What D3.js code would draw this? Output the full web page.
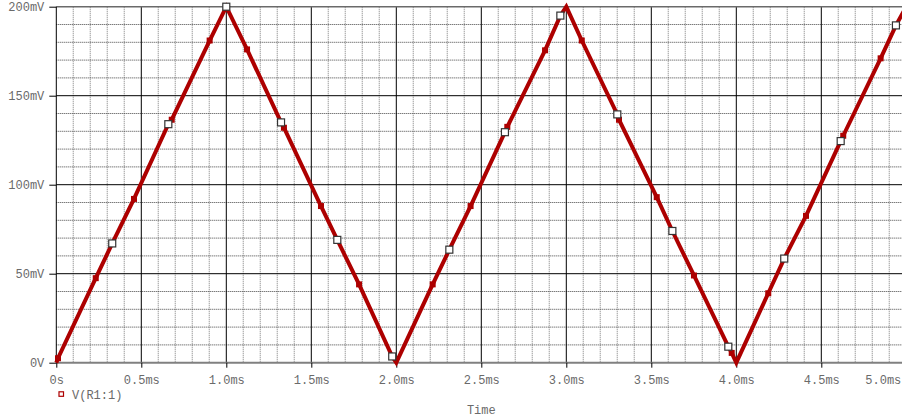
<!DOCTYPE html>
<html>
<head>
<meta charset="utf-8">
<script src="https://cdnjs.cloudflare.com/ajax/libs/d3/7.8.5/d3.min.js"></script>
<style>
  html, body { margin: 0; padding: 0; background: #fff; }
  svg { display: block; }
  .lbl { font-family: "Liberation Mono", "Courier New", monospace; font-size: 12px; fill: #6a6a6a; }
</style>
</head>
<body>
<svg id="chart" width="902" height="419"></svg>
<script>
// Transient trace V(R1:1): time in ms, voltage in mV
const timeMs = [0.000, 0.010, 0.232, 0.329, 0.457, 0.659, 0.679, 0.902, 1.000, 1.122,
                1.322, 1.339, 1.557, 1.653, 1.781, 1.976, 2.000, 2.214, 2.312, 2.437,
                2.639, 2.653, 2.875, 2.965, 3.000, 3.091, 3.300, 3.310, 3.532, 3.624,
                3.751, 3.953, 3.973, 4.000, 4.188, 4.282, 4.410, 4.614, 4.629, 4.849,
                4.939, 5.000];
const voltMv = [0, 2.5, 47.5, 67, 92, 134, 136.5, 181, 200, 176,
                135, 132, 88, 69, 44, 3.5, 0, 44, 63.5, 88,
                129.5, 132.5, 175.5, 195, 200, 181, 139.5, 136.5, 93, 74,
                49, 9, 5.5, 0, 39, 58.5, 82.5, 124.5, 127.5, 171,
                189.5, 200];
// "f" = data-point mark, "o" = trace symbol, "" = no mark
const markKind = ["", "f", "f", "o", "f", "o", "f", "f", "o", "f",
                  "o", "f", "f", "o", "f", "o", "", "f", "o", "f",
                  "o", "f", "f", "o", "", "f", "o", "f", "f", "o",
                  "f", "o", "f", "", "f", "o", "f", "o", "f", "f",
                  "o", ""];

const xTicks = [0, 0.5, 1.0, 1.5, 2.0, 2.5, 3.0, 3.5, 4.0, 4.5, 5.0];
const xTickLabels = ["0s", "0.5ms", "1.0ms", "1.5ms", "2.0ms", "2.5ms", "3.0ms", "3.5ms", "4.0ms", "4.5ms", "5.0ms"];
const yTicks = [0, 50, 100, 150, 200];
const yTickLabels = ["0V", "50mV", "100mV", "150mV", "200mV"];
const traceName = "V(R1:1)";
const xTitle = "Time";

const svg = d3.select("#chart");
const x = d3.scaleLinear().domain([0, 5]).range([56.3, 906.3]);
const y = d3.scaleLinear().domain([0, 200]).range([362.7, 6.7]);
const [x0, x1] = x.range();
const [yb, yt] = y.range();

const grid = svg.append("g");

// minor vertical grid every 0.1 ms
grid.selectAll("line.vmin")
  .data(d3.range(1, 50).filter(i => i % 5 !== 0).map(i => i / 10))
  .join("line")
  .attr("x1", d => x(d)).attr("x2", d => x(d))
  .attr("y1", yt).attr("y2", yb)
  .attr("stroke", "#999").attr("stroke-width", 1.3)
  .attr("stroke-dasharray", "1,1");

// minor horizontal grid every 10 mV
grid.selectAll("line.hmin")
  .data(d3.range(1, 20).filter(i => i % 5 !== 0).map(i => i * 10))
  .join("line")
  .attr("x1", x0).attr("x2", 902)
  .attr("y1", d => y(d)).attr("y2", d => y(d))
  .attr("stroke", "#444").attr("stroke-width", 1)
  .attr("stroke-dasharray", "1,1");

// major grid
grid.selectAll("line.vmaj")
  .data(xTicks.filter(d => d > 0))
  .join("line")
  .attr("x1", d => x(d)).attr("x2", d => x(d))
  .attr("y1", yt).attr("y2", yb)
  .attr("stroke", "#000").attr("stroke-width", 1);
grid.selectAll("line.hmaj")
  .data([50, 100, 150])
  .join("line")
  .attr("x1", x0).attr("x2", 902)
  .attr("y1", d => y(d)).attr("y2", d => y(d))
  .attr("stroke", "#000").attr("stroke-width", 1);

// frame: top and bottom in gray, left axis in black
svg.append("line").attr("x1", x0).attr("x2", 902).attr("y1", yt).attr("y2", yt)
  .attr("stroke", "#6a6a6a").attr("stroke-width", 1.6);
svg.append("line").attr("x1", x0).attr("x2", 902).attr("y1", yb).attr("y2", yb)
  .attr("stroke", "#808080").attr("stroke-width", 2);
svg.append("line").attr("x1", x0).attr("x2", x0).attr("y1", yt).attr("y2", yb)
  .attr("stroke", "#000").attr("stroke-width", 1);

// axes
const yAxis = svg.append("g")
  .attr("transform", `translate(${x0},0)`)
  .call(d3.axisLeft(y).tickValues(yTicks).tickFormat((d, i) => yTickLabels[i])
    .tickSize(7).tickPadding(5));
const xAxis = svg.append("g")
  .attr("transform", `translate(0,${yb})`)
  .call(d3.axisBottom(x).tickValues(xTicks).tickFormat((d, i) => xTickLabels[i])
    .tickSize(5).tickPadding(7.5));
[yAxis, xAxis].forEach(g => {
  g.select(".domain").remove();
  g.selectAll(".tick line").attr("stroke", "#000");
  g.selectAll(".tick text").attr("class", "lbl").attr("fill", null)
    .style("font-family", null).style("font-size", null);
  g.attr("font-family", null).attr("font-size", null);
});
// last x label pulled back inside the window
xAxis.selectAll(".tick text").filter((d, i) => i === xTicks.length - 1)
  .attr("text-anchor", "end").attr("x", -5.5);

// trace
const pts = timeMs.map((t, i) => ({ t, v: voltMv[i], k: markKind[i] }));
svg.append("path")
  .datum(pts)
  .attr("fill", "none")
  .attr("stroke", "#ad0000")
  .attr("stroke-width", 4)
  .attr("stroke-linejoin", "miter")
  .attr("d", d3.line().x(d => x(d.t)).y(d => y(d.v)));

// data-point marks
svg.selectAll("rect.dp")
  .data(pts.filter(d => d.k === "f"))
  .join("rect")
  .attr("x", d => x(d.t) - 3).attr("y", d => y(d.v) - 3)
  .attr("width", 6).attr("height", 6)
  .attr("fill", "#ad0000");

// trace symbols
svg.selectAll("rect.sym")
  .data(pts.filter(d => d.k === "o"))
  .join("rect")
  .attr("x", d => x(d.t) - 3.5).attr("y", d => y(d.v) - 3.5)
  .attr("width", 7).attr("height", 7)
  .attr("fill", "#fff").attr("stroke", "#333").attr("stroke-width", 1.2);

// legend
svg.append("rect")
  .attr("x", 59).attr("y", 391.8).attr("width", 4.5).attr("height", 4.5)
  .attr("fill", "#fff").attr("stroke", "#ad0000").attr("stroke-width", 1.2);
svg.append("text").attr("class", "lbl")
  .attr("x", 72).attr("y", 398.5).text(traceName);

// x title
svg.append("text").attr("class", "lbl")
  .attr("x", (x0 + x1) / 2).attr("y", 413.5).attr("text-anchor", "middle")
  .text(xTitle);
</script>
</body>
</html>
